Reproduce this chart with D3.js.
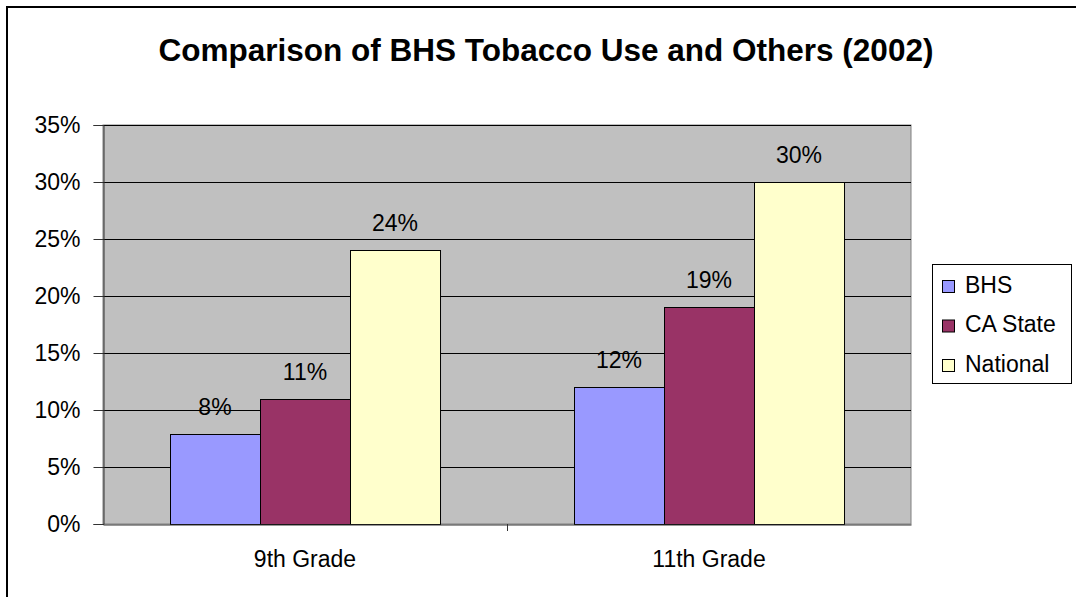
<!DOCTYPE html>
<html>
<head>
<meta charset="utf-8">
<script src="https://cdn.jsdelivr.net/npm/d3@7"></script>
<style>
  html, body { margin: 0; padding: 0; background: #fff; }
  svg { display: block; font-family: Arial, "Liberation Sans", sans-serif; }
</style>
</head>
<body>
<svg id="chart" width="1076" height="597"></svg>
<script>
const title = "Comparison of BHS Tobacco Use and Others (2002)";
const categories = ["9th Grade", "11th Grade"];
const seriesNames = ["BHS", "CA State", "National"];
const seriesColors = ["#9999FF", "#993366", "#FFFFCC"];
const bhsValues = [7.9, 12];
const caStateValues = [11, 19];
const nationalValues = [24, 30];
const valueLabels = [["8%", "11%", "24%"], ["12%", "19%", "30%"]];
const yTicks = [0, 5, 10, 15, 20, 25, 30, 35];

const seriesValues = [bhsValues, caStateValues, nationalValues];

const svg = d3.select("#chart");

// outer chart frame
svg.append("rect")
  .attr("x", 7).attr("y", 7).attr("width", 1090).attr("height", 610)
  .attr("fill", "#fff").attr("stroke", "#000").attr("stroke-width", 2);

const plot = { left: 103, right: 911, top: 125, bottom: 524 };

const y = d3.scaleLinear().domain([0, 35]).range([plot.bottom, plot.top]);
const x0 = d3.scaleBand().domain(categories).range([plot.left, plot.right]).paddingInner(0).paddingOuter(0);
const x1 = d3.scaleBand().domain(seriesNames).range([0, x0.bandwidth()]).paddingInner(0).paddingOuter(0.744);

// plot area background
svg.append("rect")
  .attr("x", plot.left).attr("y", plot.top)
  .attr("width", plot.right - plot.left).attr("height", plot.bottom - plot.top)
  .attr("fill", "#C0C0C0").attr("stroke", "#808080").attr("stroke-width", 1);

// gridlines
svg.append("g").selectAll("line").data(yTicks.filter(d => d > 0)).join("line")
  .attr("x1", plot.left).attr("x2", plot.right)
  .attr("y1", d => Math.round(y(d)) + 0.5).attr("y2", d => Math.round(y(d)) + 0.5)
  .attr("stroke", "#000").attr("stroke-width", 1);

// bars
const groups = svg.append("g").selectAll("g").data(categories).join("g")
  .attr("transform", c => `translate(${x0(c)},0)`);

groups.selectAll("rect").data((c, ci) => seriesNames.map((s, si) => ({ s, si, v: seriesValues[si][ci] })))
  .join("rect")
  .attr("x", d => Math.round(x1(d.s)) + 0.5)
  .attr("y", d => Math.round(y(d.v)) + 0.5)
  .attr("width", x1.bandwidth())
  .attr("height", d => Math.round(y(0)) - Math.round(y(d.v)))
  .attr("fill", d => seriesColors[d.si])
  .attr("stroke", "#000").attr("stroke-width", 1);

// data labels
groups.selectAll("text").data((c, ci) => seriesNames.map((s, si) => ({ s, si, v: seriesValues[si][ci], t: valueLabels[ci][si] })))
  .join("text")
  .attr("x", d => x1(d.s) + x1.bandwidth() / 2)
  .attr("y", d => y(d.v) - 19)
  .attr("text-anchor", "middle")
  .attr("font-size", 23)
  .attr("fill", "#000")
  .text(d => d.t);

// y axis
const yAxis = d3.axisLeft(y).tickValues(yTicks).tickSize(10).tickPadding(13).tickFormat(d => d + "%");
const yg = svg.append("g").attr("transform", `translate(${plot.left + 0.5},0)`).call(yAxis);
yg.select(".domain").attr("stroke", "#333");
yg.selectAll(".tick line").attr("stroke", "#333");
yg.selectAll(".tick text").attr("font-size", 23).attr("fill", "#000").attr("font-family", "Arial, 'Liberation Sans', sans-serif");

// x axis
const xg = svg.append("g").attr("transform", `translate(0,${plot.bottom + 0.5})`)
  .call(d3.axisBottom(x0).tickSize(0).tickPadding(26));
xg.select(".domain").attr("stroke", "#333");
xg.selectAll(".tick text").attr("font-size", 23).attr("fill", "#000").attr("font-family", "Arial, 'Liberation Sans', sans-serif");
// category divider ticks
svg.append("g").selectAll("line").data(categories.slice(1)).join("line")
  .attr("x1", c => Math.round(x0(c)) + 0.5).attr("x2", c => Math.round(x0(c)) + 0.5)
  .attr("y1", plot.bottom).attr("y2", plot.bottom + 7)
  .attr("stroke", "#333");

// title
svg.append("text")
  .attr("x", 546).attr("y", 61)
  .attr("text-anchor", "middle")
  .attr("font-size", 31.5).attr("font-weight", "bold")
  .text(title);

// legend
const lg = svg.append("g");
lg.append("rect").attr("x", 932.5).attr("y", 264.5).attr("width", 139).attr("height", 119)
  .attr("fill", "#fff").attr("stroke", "#000").attr("stroke-width", 1);
const items = lg.selectAll("g").data(seriesNames).join("g")
  .attr("transform", (d, i) => `translate(942,${280 + i * 39.5})`);
items.append("rect").attr("x", 0.5).attr("y", 0.5).attr("width", 12).attr("height", 12)
  .attr("fill", (d, i) => seriesColors[i]).attr("stroke", "#000").attr("stroke-width", 1);
items.append("text").attr("x", 23).attr("y", 12.5).attr("font-size", 23).attr("fill", "#000").text(d => d);
</script>
</body>
</html>
